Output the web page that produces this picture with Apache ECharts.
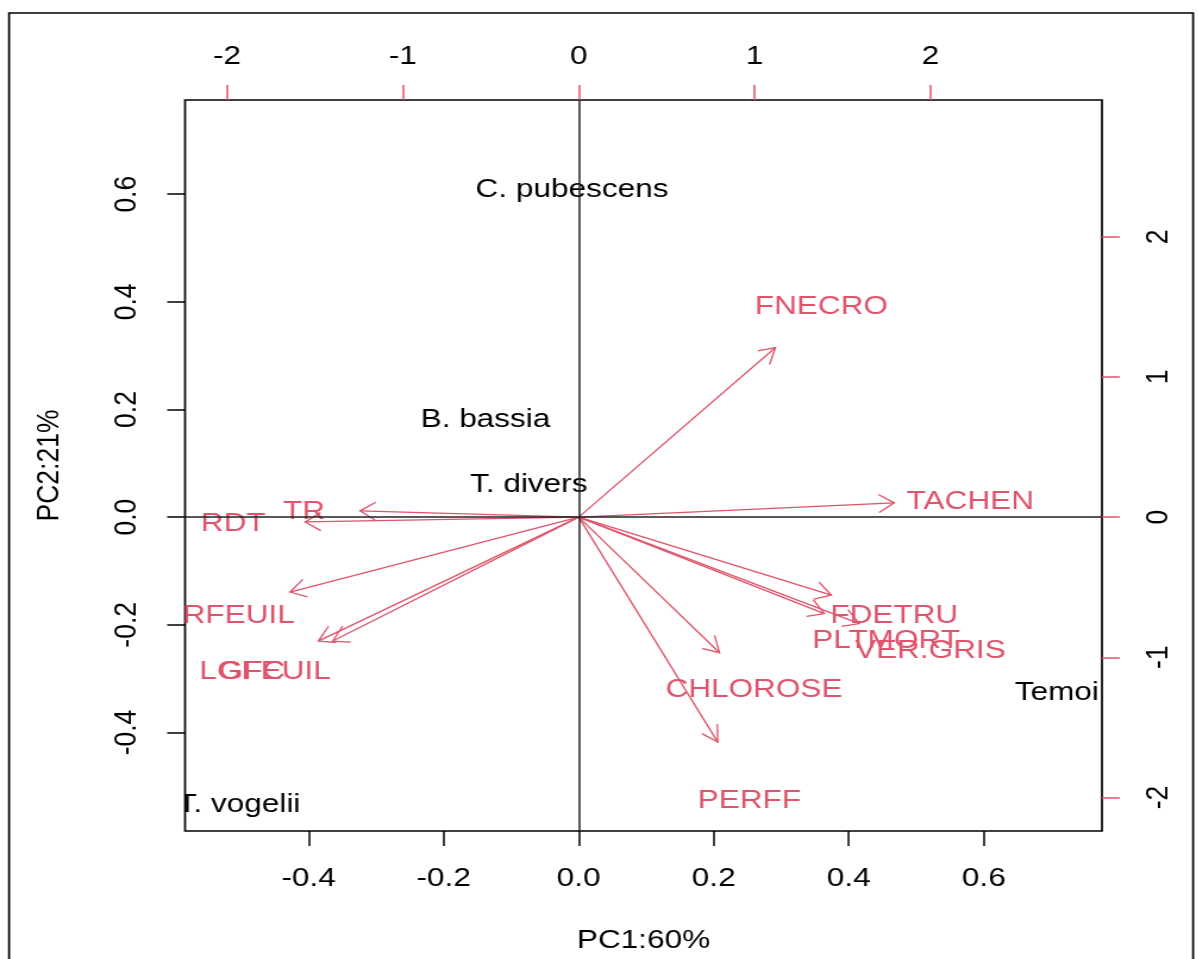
<!DOCTYPE html>
<html>
<head>
<meta charset="utf-8">
<script src="https://cdn.jsdelivr.net/npm/echarts@6/dist/echarts.min.js"></script>
<style>
html,body{margin:0;padding:0;background:#fff;overflow:hidden;}
#chart{width:1007px;height:959px;transform:scaleX(1.19);transform-origin:0 0;}
</style>
</head>
<body>
<div id="chart"></div>
<script>
// ---- data ----
// observations (scores) on the bottom / left axes
const obsNames = ['C. pubescens', 'B. bassia', 'T. divers', 'Temoi', 'T. vogelii'];
const obsPC1 = [-0.010, -0.138, -0.074, 0.708, -0.503];
const obsPC2 = [0.608, 0.181, 0.061, -0.326, -0.534];

// variables (loadings) on the top / right axes
const varNames = ['TACHEN', 'FNECRO', 'FDETRU', 'PLTMORT', 'VER.GRIS', 'CHLOROSE', 'PERFF', 'TR', 'RDT', 'RFEUIL', 'GFC', 'LGFEUIL'];
const arrowPC1 = [1.795, 1.119, 1.437, 1.397, 1.596, 0.801, 0.791, -1.244, -1.556, -1.642, -1.481, -1.399];
const arrowPC2 = [0.102, 1.210, -0.557, -0.688, -0.759, -0.967, -1.605, 0.045, -0.034, -0.534, -0.884, -0.884];
const labelPC1 = [2.227, 1.380, 1.795, 1.748, 2.000, 0.997, 0.971, -1.562, -1.965, -1.934, -1.858, -1.784];
const labelPC2 = [0.107, 1.502, -0.700, -0.879, -0.950, -1.229, -2.022, 0.038, -0.050, -0.700, -1.105, -1.105];

// axes
const pcTicks = [-0.4, -0.2, 0, 0.2, 0.4, 0.6];
const pcTickLabels = ['-0.4', '-0.2', '0.0', '0.2', '0.4', '0.6'];
const loadTicks = [-2, -1, 0, 1, 2];
const loadTickLabels = ['-2', '-1', '0', '1', '2'];
const pcRange = [-0.583, 0.775];
const loadRange = [-2.239, 2.976];
const xTitle = 'PC1:60%';
const yTitle = 'PC2:21%';

// ---- drawing ----
const STRETCH = 1.19;
const RED = '#DF536B';
const FONT = '"Liberation Sans", Arial, sans-serif';
const FS = 26.5;

function fmt(ticks, labels) {
  return function (v) {
    const i = ticks.findIndex(t => Math.abs(t - v) < 1e-9);
    return i >= 0 ? labels[i] : '';
  };
}

const chart = echarts.init(document.getElementById('chart'), null, { renderer: 'canvas' });

const labelStyle = { color: '#000', fontSize: FS, fontFamily: FONT };

const option = {
  animation: false,
  backgroundColor: '#fff',
  graphic: [{
    type: 'rect',
    shape: { x: 7.6, y: 13, width: 995, height: 1000 },
    style: { fill: null, stroke: '#000', lineWidth: 1.7 },
    silent: true
  }],
  grid: {
    left: 155.5, right: 81, top: 100, bottom: 128,
    show: true, borderColor: '#000', borderWidth: 1.7, backgroundColor: 'transparent'
  },
  xAxis: [{
    type: 'value', position: 'bottom', min: pcRange[0], max: pcRange[1],
    splitLine: { show: false },
    axisLine: { show: false, onZero: false },
    axisTick: { show: true, length: 15, customValues: pcTicks, lineStyle: { color: '#000', width: 1.5 } },
    axisLabel: Object.assign({ customValues: pcTicks, margin: 34, formatter: fmt(pcTicks, pcTickLabels) }, labelStyle),
    name: xTitle, nameLocation: 'middle', nameGap: 96,
    nameTextStyle: { color: '#000', fontSize: FS, fontFamily: FONT }
  }, {
    type: 'value', position: 'top', min: loadRange[0], max: loadRange[1],
    splitLine: { show: false },
    axisLine: { show: false, onZero: false },
    axisTick: { show: true, length: 15, customValues: loadTicks, lineStyle: { color: RED, width: 1.5 } },
    axisLabel: Object.assign({ customValues: loadTicks, margin: 30, formatter: fmt(loadTicks, loadTickLabels) }, labelStyle)
  }],
  yAxis: [{
    type: 'value', position: 'left', min: pcRange[0], max: pcRange[1],
    splitLine: { show: false },
    axisLine: { show: false, onZero: false },
    axisTick: { show: true, length: 15, customValues: pcTicks, lineStyle: { color: '#000', width: 1.5 } },
    axisLabel: Object.assign({ customValues: pcTicks, margin: 35, rotate: 90, formatter: fmt(pcTicks, pcTickLabels) }, labelStyle),
    name: yTitle, nameLocation: 'middle', nameGap: 100, nameRotate: 90,
    nameTextStyle: { color: '#000', fontSize: FS, fontFamily: FONT }
  }, {
    type: 'value', position: 'right', min: loadRange[0], max: loadRange[1],
    splitLine: { show: false },
    axisLine: { show: false, onZero: false },
    axisTick: { show: true, length: 15, customValues: loadTicks, lineStyle: { color: RED, width: 1.5 } },
    axisLabel: Object.assign({ customValues: loadTicks, margin: 34, rotate: 90, formatter: fmt(loadTicks, loadTickLabels) }, labelStyle)
  }],
  series: [
    {
      // observation names (scores)
      type: 'custom', xAxisIndex: 0, yAxisIndex: 0, clip: true, silent: true,
      data: obsPC1.map((x, i) => [x, obsPC2[i]]),
      renderItem: function (params, api) {
        const p = api.coord([api.value(0), api.value(1)]);
        return {
          type: 'text', x: p[0], y: p[1],
          style: { text: obsNames[params.dataIndex], fill: '#000', fontSize: FS, fontFamily: FONT, align: 'center', verticalAlign: 'middle' }
        };
      },
      markLine: {
        silent: true, symbol: ['none', 'none'], label: { show: false },
        lineStyle: { color: '#222', width: 1.5, type: 'solid' },
        data: [{ xAxis: 0 }, { yAxis: 0 }]
      },
      z: 2
    },
    {
      // variable arrows (loadings)
      type: 'custom', xAxisIndex: 1, yAxisIndex: 1, clip: true, silent: true,
      data: arrowPC1.map((x, i) => [x, arrowPC2[i]]),
      renderItem: function (params, api) {
        const o = api.coord([0, 0]);
        const t = api.coord([api.value(0), api.value(1)]);
        const ox = o[0] * STRETCH, oy = o[1], tx = t[0] * STRETCH, ty = t[1];
        const ang = Math.atan2(ty - oy, tx - ox);
        const L = 18, a = Math.PI / 6;
        const h1 = [(tx - L * Math.cos(ang - a)) / STRETCH, ty - L * Math.sin(ang - a)];
        const h2 = [(tx - L * Math.cos(ang + a)) / STRETCH, ty - L * Math.sin(ang + a)];
        return {
          type: 'group',
          children: [
            { type: 'line', shape: { x1: o[0], y1: o[1], x2: t[0], y2: t[1] }, style: { stroke: RED, lineWidth: 1.3 } },
            { type: 'polyline', shape: { points: [h1, [t[0], t[1]], h2] }, style: { stroke: RED, lineWidth: 1.3, fill: null } }
          ]
        };
      },
      z: 3
    },
    {
      // variable names
      type: 'custom', xAxisIndex: 1, yAxisIndex: 1, clip: true, silent: true,
      data: labelPC1.map((x, i) => [x, labelPC2[i]]),
      renderItem: function (params, api) {
        const p = api.coord([api.value(0), api.value(1)]);
        return {
          type: 'text', x: p[0], y: p[1],
          style: { text: varNames[params.dataIndex], fill: RED, fontSize: FS, fontFamily: FONT, align: 'center', verticalAlign: 'middle' }
        };
      },
      z: 4
    }
  ]
};
chart.setOption(option);
</script>
</body>
</html>
